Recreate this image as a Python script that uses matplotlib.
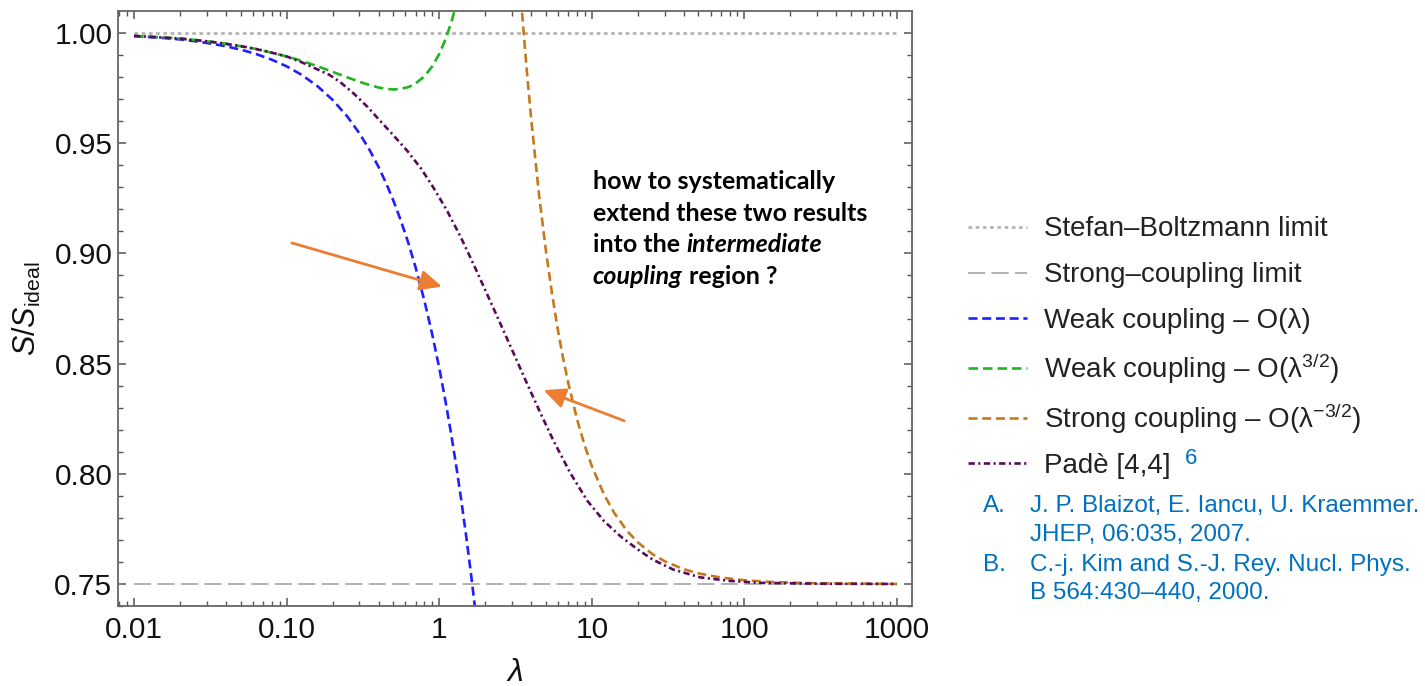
import matplotlib
matplotlib.use('Agg')
import matplotlib.pyplot as plt
from matplotlib.lines import Line2D
from matplotlib.ticker import FixedLocator, FixedFormatter, LogLocator, NullFormatter, MultipleLocator

plt.rcParams['font.family'] = ['Liberation Sans', 'DejaVu Sans']
plt.rcParams['mathtext.fontset'] = 'custom'
plt.rcParams['mathtext.rm'] = 'Liberation Sans'
plt.rcParams['mathtext.it'] = 'Liberation Sans:italic'
plt.rcParams['mathtext.bf'] = 'Liberation Sans:bold'

# ---------------- data ----------------
limit_lam = [0.01, 1000]
sb_limit = [1.0, 1.0]
strong_limit = [0.75, 0.75]

weak1_lam = [0.01, 0.0125, 0.016, 0.02, 0.025, 0.032, 0.04, 0.05, 0.063, 0.08, 0.1,
             0.125, 0.16, 0.2, 0.25, 0.3, 0.35, 0.4, 0.45, 0.5, 0.56, 0.63, 0.7, 0.8,
             0.9, 1.0, 1.1, 1.2, 1.3, 1.4, 1.5, 1.6, 1.7, 1.75]
weak1_val = [0.9985, 0.9981, 0.9976, 0.9970, 0.9962, 0.9951, 0.9939, 0.9924, 0.9904,
             0.9878, 0.9848, 0.9810, 0.9757, 0.9696, 0.9620, 0.9544, 0.9468, 0.9392,
             0.9316, 0.9240, 0.9149, 0.9043, 0.8936, 0.8784, 0.8632, 0.8480, 0.8328,
             0.8176, 0.8024, 0.7872, 0.7720, 0.7568, 0.7416, 0.7340]

weak32_lam = [0.01, 0.016, 0.025, 0.04, 0.063, 0.1, 0.125, 0.16, 0.2, 0.25, 0.3, 0.35,
              0.4, 0.45, 0.5, 0.56, 0.63, 0.7, 0.8, 0.9, 1.0, 1.1, 1.2, 1.3]
weak32_val = [0.9986, 0.9979, 0.9968, 0.9951, 0.9927, 0.9893, 0.9873, 0.9848, 0.9823,
              0.9798, 0.9778, 0.9763, 0.9752, 0.9746, 0.9743, 0.9746, 0.9754, 0.9770,
              0.9803, 0.9848, 0.9904, 0.9971, 1.0048, 1.0134]

strong_lam = [3.4, 3.5, 3.75, 4.0, 4.5, 5.0, 5.5, 6.0, 6.5, 7.0, 8.0, 9.0, 10.0, 12.0,
              14.0, 17.0, 20.0, 25.0, 30.0, 40.0, 50.0, 70.0, 100.0, 150.0, 200.0,
              300.0, 500.0, 1000.0]
strong_val = [1.0196, 1.0082, 0.9828, 0.9613, 0.9271, 0.9012, 0.8811, 0.8650, 0.8520,
              0.8413, 0.8247, 0.8126, 0.8035, 0.7907, 0.7823, 0.7741, 0.7689, 0.7635,
              0.7603, 0.7567, 0.7548, 0.7529, 0.7517, 0.7509, 0.7506, 0.7503, 0.7502,
              0.7500]

pade_lam = [0.01, 0.02, 0.0316, 0.05, 0.0708, 0.1, 0.126, 0.158, 0.191, 0.224, 0.275,
            0.339, 0.407, 0.501, 0.617, 0.759, 0.912, 1.122, 1.38, 1.679, 2.042, 2.512,
            3.09, 3.758, 4.571, 5.623, 7.244, 9.333, 12.02, 15.49, 19.95, 25.12, 34.28,
            51.29, 79.43, 125.9, 316.2, 1000.0]
pade_val = [0.9986, 0.9974, 0.9960, 0.9940, 0.9919, 0.9893, 0.9866, 0.9835, 0.9809,
            0.9777, 0.9725, 0.9664, 0.9603, 0.9535, 0.9465, 0.9385, 0.9300, 0.9195,
            0.9075, 0.8950, 0.8820, 0.8682, 0.8542, 0.8410, 0.8280, 0.8148, 0.8002,
            0.7878, 0.7785, 0.7715, 0.7657, 0.7610, 0.7565, 0.7530, 0.7514, 0.7505,
            0.7501, 0.7500]

x_ticks = [0.01, 0.1, 1, 10, 100, 1000]
x_ticklabels = ['0.01', '0.10', '1', '10', '100', '1000']
y_ticks = [0.75, 0.80, 0.85, 0.90, 0.95, 1.00]
y_ticklabels = ['0.75', '0.80', '0.85', '0.90', '0.95', '1.00']

series_labels = ['Stefan\u2013Boltzmann limit', 'Strong\u2013coupling limit',
                 'Weak coupling \u2013 O(\u03bb)',
                 'Weak coupling \u2013 O(\u03bb$^{3/2}$)',
                 'Strong coupling \u2013 O(\u03bb$^{\u22123/2}$)',
                 'Pad\u00e8 [4,4]']
ref_lines = [('A.', 'J. P. Blaizot, E. Iancu, U. Kraemmer.'),
             ('', 'JHEP, 06:035, 2007.'),
             ('B.', 'C.-j. Kim and S.-J. Rey. Nucl. Phys.'),
             ('', 'B 564:430\u2013440, 2000.')]

# ---------------- figure ----------------
W, H = 1425, 686
fig = plt.figure(figsize=(W / 100, H / 100), dpi=100)
ax = fig.add_axes([118 / W, 80 / H, 794 / W, 595 / H])

ax.set_xscale('log')
ax.set_xlim(0.00785, 1254)
ax.set_ylim(0.74, 1.0099)

styles = [dict(color='#b4b4b4', lw=2.0, dashes=(1.3, 1.3)),
          dict(color='#ababab', lw=1.3, dashes=(9.5, 3.5)),
          dict(color='#1f1fff', lw=1.9, dashes=(3.4, 1.8)),
          dict(color='#1fb51f', lw=1.9, dashes=(3.6, 1.9)),
          dict(color='#c47a1c', lw=1.9, dashes=(3.4, 1.8)),
          dict(color='#5a0a5a', lw=1.9, dashes=(2.4, 1.3, 0.8, 1.3))]

ax.plot(limit_lam, sb_limit, label=series_labels[0], **styles[0])
ax.plot(limit_lam, strong_limit, label=series_labels[1], **styles[1])
ax.plot(weak1_lam, weak1_val, label=series_labels[2], **styles[2])
ax.plot(weak32_lam, weak32_val, label=series_labels[3], **styles[3])
ax.plot(strong_lam, strong_val, label=series_labels[4], **styles[4])
ax.plot(pade_lam, pade_val, label=series_labels[5], **styles[5])

# ticks
ax.xaxis.set_major_locator(FixedLocator(x_ticks))
ax.xaxis.set_major_formatter(FixedFormatter(x_ticklabels))
ax.xaxis.set_minor_locator(LogLocator(base=10, subs=[2, 3, 4, 5, 6, 7, 8, 9], numticks=20))
ax.xaxis.set_minor_formatter(NullFormatter())
ax.yaxis.set_major_locator(FixedLocator(y_ticks))
ax.yaxis.set_major_formatter(FixedFormatter(y_ticklabels))
ax.yaxis.set_minor_locator(MultipleLocator(0.01))

ax.tick_params(which='both', direction='in', top=True, right=True, colors='#555555',
               labelcolor='#111111', labelsize=21.5)
ax.tick_params(which='major', length=6, width=1.1)
ax.tick_params(which='minor', length=3.8, width=1.0)
ax.tick_params(axis='x', which='major', pad=7)
ax.tick_params(axis='y', which='major', pad=4)
for s in ax.spines.values():
    s.set_color('#666666')
    s.set_linewidth(1.3)

ax.set_xlabel(r'$\lambda$', fontsize=23, color='#111111', va='center')
ax.xaxis.set_label_coords(0.5, -0.1126)
ax.set_ylabel(r'$S/S_{\mathrm{ideal}}$', fontsize=22, color='#111111', va='center')
ax.yaxis.set_label_coords(-0.1146, 0.5)

# arrows
arrow_kw = dict(arrowstyle='-|>,head_length=0.6,head_width=0.28', color='#ED7D31',
                lw=2.0, mutation_scale=22, shrinkA=0, shrinkB=0)
ax.annotate('', xy=(1.041, 0.8849), xytext=(0.1083, 0.9047), arrowprops=arrow_kw)
ax.annotate('', xy=(4.83, 0.8379), xytext=(16.3, 0.8240), arrowprops=arrow_kw)

# annotation text
note_kw = dict(family=['Lato', 'DejaVu Sans'], fontsize=18, fontweight='bold', color='black')
x0 = 592.7 / W
t1 = fig.text(x0, 1 - 189.3 / H, 'how to systematically', va='baseline', **note_kw)
t2 = fig.text(x0, 1 - 220.8 / H, 'extend these two results', va='baseline', **note_kw)
t3a = fig.text(x0, 1 - 252.3 / H, 'into the', va='baseline', **note_kw)
t3b = ax.annotate('intermediate', xy=(1, 0), xycoords=t3a, xytext=(4.8, 0),
                  textcoords='offset points', va='bottom', ha='left', style='italic',
                  annotation_clip=False, **note_kw)
t4a = fig.text(x0, 1 - 284 / H, 'coupling', va='baseline', style='italic', **note_kw)
t4b = ax.annotate('region ?', xy=(1, 0), xycoords=t4a, xytext=(4.8, 0),
                  textcoords='offset points', va='bottom', ha='left',
                  annotation_clip=False, **note_kw)

# legend (placed row by row)
row_line_y = [226.7, 272.7, 318.3, 368.3, 418.3, 463.3]
row_base_y = [236.5, 282.0, 328.0, 378.0, 428.0, 473.0]
for st, lab, ly, by in zip(styles, series_labels, row_line_y, row_base_y):
    fig.add_artist(Line2D([968 / W, 1027 / W], [1 - ly / H, 1 - ly / H],
                          transform=fig.transFigure, **st))
    fig.text(1044 / W, 1 - by / H, lab, fontsize=20, color='#222222', va='baseline')

fig.text(1185 / W, 1 - 458 / H, '6', color='#0070C0', fontsize=16, va='center', ha='left')

ref_y = [506, 535, 565, 593]
for (lab, txt), yy in zip(ref_lines, ref_y):
    if lab:
        fig.text(983 / W, 1 - yy / H, lab, color='#0070C0', fontsize=17.5, va='center')
    fig.text(1030 / W, 1 - yy / H, txt, color='#0070C0', fontsize=17.5, va='center')

fig.savefig('out.png', dpi=100)
